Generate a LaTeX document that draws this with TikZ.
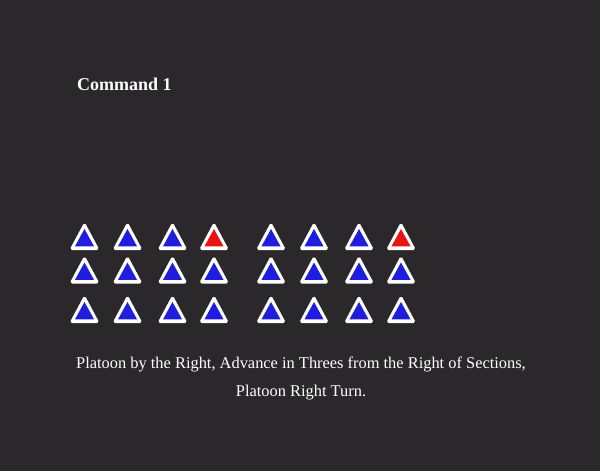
\documentclass[tikz,border=0pt]{standalone}
\usepackage{fontspec}
\setmainfont{Liberation Serif}
\definecolor{bg}{HTML}{2A282B}
\definecolor{tblue}{HTML}{1E1EDC}
\definecolor{tred}{HTML}{E81414}
\tikzset{
  outertri/.style={fill=white, draw=white, line width=1.5pt, line join=round, rounded corners=1.5pt},
  innertri/.style={fill=#1},
  caption/.style={text=white, font=\fontsize{16.4}{20}\selectfont, align=center, inner sep=0pt},
  title/.style={text=white, font=\bfseries\fontsize{18}{21}\selectfont, anchor=west, inner sep=0pt}
}
\newcommand{\soldier}[3]{%
  \begin{scope}[shift={(#1,#2)}]
    \path[outertri] (0,-13) -- (13.8,12.8) -- (-13.8,12.8) -- cycle;
    \path[innertri=#3] (0,-7.5) -- (9.5,9.8) -- (-9.5,9.8) -- cycle;
  \end{scope}}
\begin{document}
\begin{tikzpicture}[x=1pt,y=-1pt]
\fill[bg] (0,0) rectangle (600,471);
\useasboundingbox (0,0) rectangle (600,471);
\node[title] (cmd) at (77,84) {Command 1};
\foreach \x/\c in {84.5/tblue,127.5/tblue,172.5/tblue,214/tred,271/tblue,314/tblue,359/tblue,401/tred}{
  \soldier{\x}{236.5}{\c}
}
\foreach \x in {84.5,127.5,172.5,214,271,314,359,401}{
  \soldier{\x}{270}{tblue}
  \soldier{\x}{309.5}{tblue}
}
\node[caption] (cap1) at (301,364) {Platoon by the Right, Advance in Threes from the Right of Sections,};
\node[caption] (cap2) at (301,393) {Platoon Right Turn.};
\end{tikzpicture}
\end{document}
